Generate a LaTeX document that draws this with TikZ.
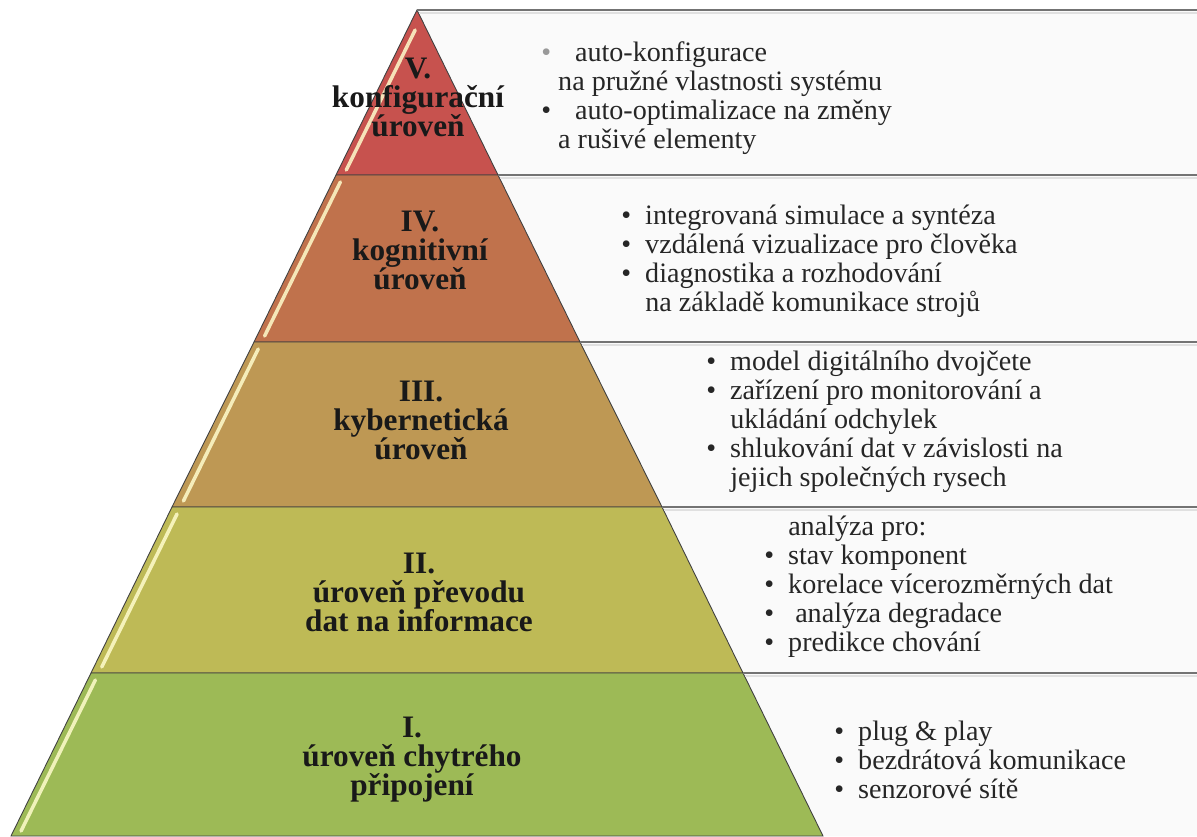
\documentclass[tikz,border=0pt]{standalone}
\usepackage{fontspec}
\setmainfont{Liberation Serif}
\usetikzlibrary{positioning}
\definecolor{tierred}{RGB}{199,82,78}
\definecolor{tierorange}{RGB}{192,114,76}
\definecolor{tiertan}{RGB}{190,152,84}
\definecolor{tierolive}{RGB}{190,186,86}
\definecolor{tiergreen}{RGB}{157,186,86}
\definecolor{panelgray}{RGB}{250,250,250}
\newcommand{\itm}{\makebox[0.85em][l]{\textbullet}}
\newcommand{\cnt}{\hspace*{0.85em}}

\begin{document}
\begin{tikzpicture}[
    x=0.02cm, y=-0.02cm,
    every node/.style={inner sep=0pt},
    tier/.style={draw=black!75, line width=0.5pt},
    title/.style={font=\fontsize{17.8}{16.5}\selectfont\bfseries, align=center, text=black!90},
    desc/.style={font=\fontsize{16}{16.5}\selectfont, align=left, anchor=west, text=black!85},
    sep/.style={draw=black!55, line width=1.3pt},
    shade/.style={draw=black!12, line width=0.8pt},
    hilite/.style={draw=yellow!20!white, line width=2pt, line cap=round, opacity=0.85}
  ]
    \useasboundingbox (0,0) rectangle (1197,836);

    % panel behind the descriptions
    \fill[panelgray] (417,10) -- (1197,10) -- (1197,836) -- (823,836) -- (743,673)
      -- (662,507) -- (580,342) -- (498,175) -- cycle;

    % tiers of the pyramid
    \path[tier, fill=tierred] (417,10) -- (498,175) -- (336,175) -- cycle;
    \path[tier, fill=tierorange] (336,175) -- (498,175) -- (580,342) -- (254,342) -- cycle;
    \path[tier, fill=tiertan] (254,342) -- (580,342) -- (662,507) -- (172,507) -- cycle;
    \path[tier, fill=tierolive] (172,507) -- (662,507) -- (743,673) -- (91,673) -- cycle;
    \path[tier, fill=tiergreen] (91,673) -- (743,673) -- (823,836) -- (11,836) -- cycle;

    % light rim on the left side of every tier
    \foreach \t/\b in {30/170, 182/336, 349/501, 514/667, 680/831}
      \draw[hilite] ({417-0.492*(\t-10)+8},\t) -- ({417-0.492*(\b-10)+8},\b);

    % rules between the description panels
    \draw[shade] (419,13) -- (1197,13);
    \draw[shade] (500,178) -- (1197,178);
    \draw[shade] (582,345) -- (1197,345);
    \draw[shade] (664,510) -- (1197,510);
    \draw[shade] (745,676) -- (1197,676);
    \draw[sep] (417,10) -- (1197,10);
    \draw[sep] (498,175) -- (1197,175);
    \draw[sep] (580,342) -- (1197,342);
    \draw[sep] (662,507) -- (1197,507);
    \draw[sep] (743,673) -- (1197,673);

    % level names
    \node[title] (tV) at (418,97) {V.\\konfigurační\\úroveň};
    \node[title] (tIV) at (420,250) {IV.\\kognitivní\\úroveň};
    \node[title] (tIII) at (421,420) {III.\\kybernetická\\úroveň};
    \node[title] (tII) at (419,592) {II.\\úroveň převodu\\dat na informace};
    \node[title] (tI) at (412,760) {I.\\úroveň chytrého\\připojení};

    % descriptions
    \node[desc] (dV) at (541,98) {\makebox[1.2em][l]{\textcolor{black!40}{\textbullet}}auto-konfigurace\\
      \hspace*{0.6em}na pružné vlastnosti systému\\
      \makebox[1.2em][l]{\textbullet}auto-optimalizace na změny\\
      \hspace*{0.6em}a rušivé elementy};
    \node[desc] (dIV) at (621,261) {\itm integrovaná simulace a syntéza\\
      \itm vzdálená vizualizace pro člověka\\
      \itm diagnostika a rozhodování\\
      \cnt na základě komunikace strojů};
    \node[desc] (dIII) at (706,422) {\itm model digitálního dvojčete\\
      \itm zařízení pro monitorování a\\
      \cnt ukládání odchylek\\
      \itm shlukování dat v závislosti na\\
      \cnt jejich společných rysech};
    \node[desc] (dII) at (764,587) {\cnt analýza pro:\\
      \itm stav komponent\\
      \itm korelace vícerozměrných dat\\
      \itm\ analýza degradace\\
      \itm predikce chování};
    \node[desc] (dI) at (834,760) {\itm plug \& play\\
      \itm bezdrátová komunikace\\
      \itm senzorové sítě};
  \end{tikzpicture}
\end{document}
